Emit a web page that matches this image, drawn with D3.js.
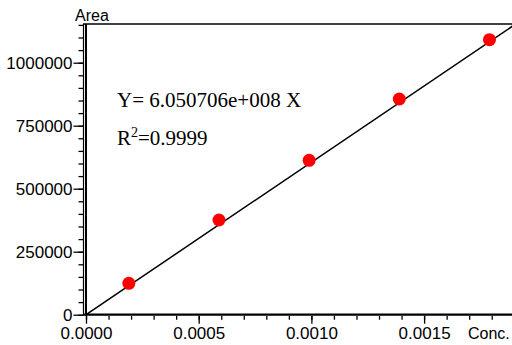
<!DOCTYPE html>
<html><head><meta charset="utf-8">
<script src="https://cdn.jsdelivr.net/npm/d3@7"></script>
<style>
html,body{margin:0;padding:0;background:#fff;overflow:hidden}
svg{display:block}
</style></head>
<body>
<script>
// Data
const conc = [0.00019, 0.00059, 0.00099, 0.00139, 0.00179];
const area = [124600, 375800, 612700, 856000, 1091300];
const slope = 6.050706e8;
const r2Text = "0.9999";
const xMajorTicks = [0, 0.0005, 0.0010, 0.0015];
const yMajorTicks = [0, 250000, 500000, 750000, 1000000];
const xLabel = "Conc.";
const yLabel = "Area";

const W = 512, H = 345;
const svg = d3.select("body").append("svg").attr("width", W).attr("height", H);

const x0 = 86, y0 = 314.7, yTop = 24;
const x = d3.scaleLinear().domain([0, 0.002]).range([x0, x0 + 0.002 * 225400]);
const y = d3.scaleLinear().domain([0, 1000000]).range([y0, y0 - 252]);

const xMinor = d3.range(0, 19).map(i => i * 0.0001);
const yMinor = d3.range(0, 24).map(i => i * 50000);

const font = "'Liberation Sans', Arial, sans-serif";

svg.append("defs").append("clipPath").attr("id", "clip")
  .append("rect").attr("x", x0).attr("y", yTop).attr("width", W - x0).attr("height", y0 - yTop);

// frame
svg.append("line").attr("x1", 83).attr("x2", W).attr("y1", yTop).attr("y2", yTop)
  .attr("stroke", "#000").attr("stroke-width", 1.5);
svg.append("line").attr("x1", 83.5).attr("x2", 83.5).attr("y1", yTop).attr("y2", y0)
  .attr("stroke", "#000").attr("stroke-width", 1.2);

// y axis minor
const gyMinor = svg.append("g").attr("transform", `translate(${x0 - 2.5},0)`)
  .call(d3.axisLeft(y).tickValues(yMinor.filter(v => y(v) >= yTop)).tickSize(5).tickFormat(""));
// y axis major
const gy = svg.append("g").attr("transform", `translate(${x0 - 2.5},0)`)
  .call(d3.axisLeft(y).tickValues(yMajorTicks).tickSize(10).tickPadding(1).tickFormat(d3.format("d")));
[gyMinor, gy].forEach(g => { g.select(".domain").remove(); g.selectAll("line").attr("stroke", "#000").attr("stroke-width", 1.3); });
gy.selectAll("text").attr("font-family", font).attr("font-size", 17).attr("fill", "#000").attr("dy", "0.34em");

// x axis minor
const gxMinor = svg.append("g").attr("transform", `translate(0,${y0 + 1})`)
  .call(d3.axisBottom(x).tickValues(xMinor).tickSize(4).tickFormat(""));
const gx = svg.append("g").attr("transform", `translate(0,${y0 + 1})`)
  .call(d3.axisBottom(x).tickValues(xMajorTicks).tickSize(8).tickPadding(3).tickFormat(d3.format(".4f")));
[gxMinor, gx].forEach(g => { g.select(".domain").remove(); g.selectAll("line").attr("stroke", "#000").attr("stroke-width", 1.3); });
gx.selectAll("text").attr("font-family", font).attr("font-size", 17).attr("fill", "#000");

// axis lines
svg.append("line").attr("x1", x0).attr("x2", x0).attr("y1", yTop).attr("y2", y0 + 1)
  .attr("stroke", "#000").attr("stroke-width", 2);
svg.append("line").attr("x1", x0 - 3).attr("x2", W).attr("y1", y0).attr("y2", y0)
  .attr("stroke", "#000").attr("stroke-width", 2.3);

// axis titles
svg.append("text").attr("x", 75).attr("y", 21).attr("font-family", font).attr("font-size", 16)
  .attr("fill", "#000").text(yLabel);
svg.append("text").attr("x", 468).attr("y", 339).attr("font-family", font).attr("font-size", 16)
  .attr("fill", "#000").text(xLabel);

// regression line
const xEnd = x.domain()[1];
svg.append("line").attr("clip-path", "url(#clip)")
  .attr("x1", x(0)).attr("y1", y(0)).attr("x2", x(xEnd)).attr("y2", y(slope * xEnd))
  .attr("stroke", "#000").attr("stroke-width", 1.5);

// points
svg.append("g").selectAll("circle").data(conc).join("circle")
  .attr("cx", (d) => x(d)).attr("cy", (d, i) => y(area[i])).attr("r", 6.5).attr("fill", "#ff0000");

// equation text
const serif = "'Liberation Serif', 'Times New Roman', serif";
svg.append("text").attr("x", 117).attr("y", 107).attr("font-family", serif).attr("font-size", 21)
  .attr("fill", "#000").text("Y= " + slope.toExponential(6).replace("e+8", "e+008") + " X");
const r2 = svg.append("text").attr("x", 117).attr("y", 145).attr("font-family", serif).attr("font-size", 21).attr("fill", "#000");
r2.append("tspan").text("R");
r2.append("tspan").attr("font-size", 14).attr("dy", -8).text("2");
r2.append("tspan").attr("dy", 8).text("=" + r2Text);
</script>
</body></html>
